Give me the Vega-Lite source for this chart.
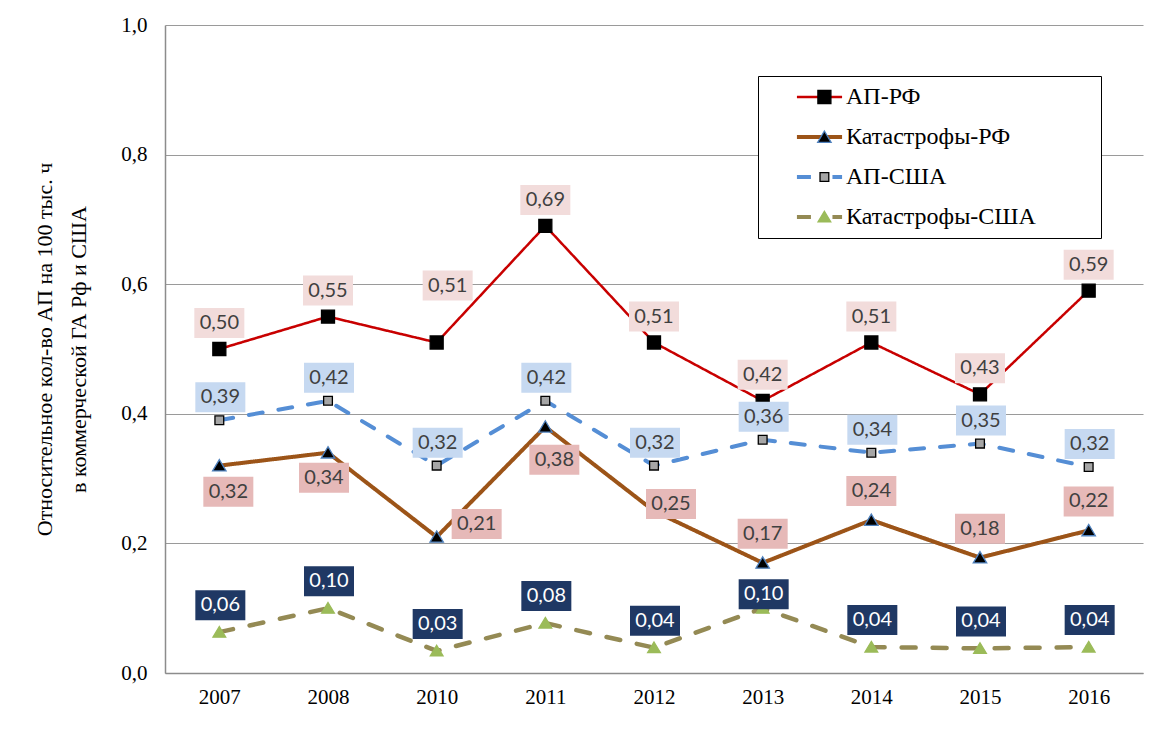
{
  "$schema": "https://vega.github.io/schema/vega-lite/v6.json",
  "width": 978,
  "height": 648,
  "autosize": {"type": "none"},
  "padding": {"left": 165, "top": 25, "right": 16, "bottom": 56},
  "background": "white",
  "config": {
    "view": {"stroke": null},
    "locale": {"number": {"decimal": ",", "thousands": " ", "grouping": [3], "currency": ["", ""]}}
  },
  "data": {
    "values": [
      {"year": "2007", "series": "АП-РФ", "value": 0.50},
      {"year": "2008", "series": "АП-РФ", "value": 0.55},
      {"year": "2010", "series": "АП-РФ", "value": 0.51},
      {"year": "2011", "series": "АП-РФ", "value": 0.69},
      {"year": "2012", "series": "АП-РФ", "value": 0.51},
      {"year": "2013", "series": "АП-РФ", "value": 0.42},
      {"year": "2014", "series": "АП-РФ", "value": 0.51},
      {"year": "2015", "series": "АП-РФ", "value": 0.43},
      {"year": "2016", "series": "АП-РФ", "value": 0.59},
      {"year": "2007", "series": "Катастрофы-РФ", "value": 0.32},
      {"year": "2008", "series": "Катастрофы-РФ", "value": 0.34},
      {"year": "2010", "series": "Катастрофы-РФ", "value": 0.21},
      {"year": "2011", "series": "Катастрофы-РФ", "value": 0.38},
      {"year": "2012", "series": "Катастрофы-РФ", "value": 0.25},
      {"year": "2013", "series": "Катастрофы-РФ", "value": 0.17},
      {"year": "2014", "series": "Катастрофы-РФ", "value": 0.236},
      {"year": "2015", "series": "Катастрофы-РФ", "value": 0.178},
      {"year": "2016", "series": "Катастрофы-РФ", "value": 0.22},
      {"year": "2007", "series": "АП-США", "value": 0.39},
      {"year": "2008", "series": "АП-США", "value": 0.42},
      {"year": "2010", "series": "АП-США", "value": 0.32},
      {"year": "2011", "series": "АП-США", "value": 0.42},
      {"year": "2012", "series": "АП-США", "value": 0.32},
      {"year": "2013", "series": "АП-США", "value": 0.36},
      {"year": "2014", "series": "АП-США", "value": 0.34},
      {"year": "2015", "series": "АП-США", "value": 0.354},
      {"year": "2016", "series": "АП-США", "value": 0.318},
      {"year": "2007", "series": "Катастрофы-США", "value": 0.063},
      {"year": "2008", "series": "Катастрофы-США", "value": 0.10},
      {"year": "2010", "series": "Катастрофы-США", "value": 0.034},
      {"year": "2011", "series": "Катастрофы-США", "value": 0.077},
      {"year": "2012", "series": "Катастрофы-США", "value": 0.039},
      {"year": "2013", "series": "Катастрофы-США", "value": 0.10},
      {"year": "2014", "series": "Катастрофы-США", "value": 0.04},
      {"year": "2015", "series": "Катастрофы-США", "value": 0.038},
      {"year": "2016", "series": "Катастрофы-США", "value": 0.04}
    ]
  },
  "encoding": {
    "x": {
      "field": "year", "type": "ordinal", "sort": null,
      "scale": {"type": "point", "padding": 0.5},
      "axis": {
        "title": null, "labelAngle": 0, "labelFont": "Liberation Serif", "labelFontSize": 21,
        "labelColor": "black", "ticks": false, "domainColor": "#8c8c8c", "domainWidth": 1.5,
        "labelPadding": 13, "grid": false
      }
    },
    "y": {
      "field": "value", "type": "quantitative",
      "scale": {"domain": [0, 1], "nice": false},
      "axis": {
        "values": [0, 0.2, 0.4, 0.6, 0.8, 1], "format": ".1f",
        "labelFont": "Liberation Serif", "labelFontSize": 21, "labelColor": "black",
        "ticks": false, "labelPadding": 18, "domainColor": "#8c8c8c", "domainWidth": 1.5,
        "gridColor": "#9a9a9a", "gridWidth": 1.2,
        "title": ["Относительное кол-во АП  на 100 тыс. ч", "в коммерческой ГА Рф и США"],
        "titleFont": "Liberation Serif", "titleFontSize": 22, "titleFontWeight": "normal",
        "titleColor": "black", "titleLineHeight": 34, "titlePadding": 30
      }
    }
  },
  "layer": [
    {
      "mark": {
        "type": "line", "strokeCap": "round",
        "strokeWidth": {"expr": "datum.series === 'АП-РФ' ? 2.5 : (datum.series === 'Катастрофы-США' ? 4.5 : 4)"}
      },
      "encoding": {
        "color": {
          "field": "series", "type": "nominal",
          "scale": {"domain": ["АП-РФ", "Катастрофы-РФ", "АП-США", "Катастрофы-США"], "range": ["#c80000", "#9c5418", "#558ed5", "#948a54"]},
          "legend": {
            "orient": "none", "legendX": 593, "legendY": 51,
            "title": "\u2800\u2800", "titleOrient": "right", "titleFontSize": 24, "titlePadding": 20,
            "titleFont": "Liberation Serif", "titleColor": "white",
            "padding": 9, "strokeColor": "black", "fillColor": "white",
            "symbolSize": 1369, "symbolOffset": 40.5, "symbolStrokeWidth": 2,
            "labelFont": "Liberation Serif", "labelFontSize": 24, "labelColor": "black", "labelOffset": 14.5,
            "labelLimit": 500, "rowPadding": 16, "zindex": 0,
            "encode": {
              "symbols": {
                "update": {
                  "shape": {"signal": "datum.value === 'АП-РФ' || datum.value === 'Катастрофы-РФ' ? 'M-1.22,0H1.22' : 'M-1.22,0H-0.3M0.7,0H1.22'"},
                  "strokeWidth": {"signal": "datum.value === 'АП-РФ' ? 2.5 : 4"},
                  "fillOpacity": {"value": 0},
                  "strokeDash": {"value": [1, 0]},
                  "opacity": {"value": 1}
                }
              }
            }
          }
        },
        "strokeDash": {
          "field": "series", "type": "nominal",
          "scale": {"domain": ["АП-РФ", "Катастрофы-РФ", "АП-США", "Катастрофы-США"], "range": [[1, 0], [1, 0], [14, 16], [14, 17]]},
          "legend": null
        }
      }
    },
    {
      "mark": {"type": "point", "filled": true, "size": 200, "strokeWidth": 1.3, "opacity": 1},
      "encoding": {
        "shape": {
          "field": "series", "type": "nominal", "sort": null,
          "scale": {"range": ["M-0.92,-0.92H0.92V0.92H-0.92Z", "M0,-0.85L0.95,0.75H-0.95Z", "M-0.62,-0.62H0.62V0.62H-0.62Z", "M0,-0.8L0.9,0.7H-0.9Z"]},
          "legend": {
            "orient": "none", "legendX": 593, "legendY": 51, "title": null,
            "padding": 9, "symbolSize": 200, "symbolOffset": 45.4, "symbolStrokeWidth": 1.3,
            "labelFont": "Liberation Serif", "labelFontSize": 24, "labelOpacity": 0, "labelOffset": 14.5,
            "labelLimit": 500, "rowPadding": 16, "zindex": 1,
            "encode": {
              "symbols": {
                "update": {
                  "fill": {"signal": "datum.value === 'АП-США' ? '#a6a6a6' : (datum.value === 'Катастрофы-США' ? '#9bbb59' : 'black')"},
                  "stroke": {"signal": "datum.value === 'Катастрофы-РФ' ? '#4f81bd' : (datum.value === 'Катастрофы-США' ? '#9bbb59' : 'black')"},
                  "strokeWidth": {"value": 1.3},
                  "fillOpacity": {"value": 1},
                  "opacity": {"value": 1}
                }
              }
            }
          }
        },
        "fill": {
          "field": "series", "type": "nominal", "sort": null,
          "scale": {"range": ["black", "black", "#a6a6a6", "#9bbb59"]},
          "legend": null
        },
        "stroke": {
          "field": "series", "type": "nominal", "sort": null,
          "scale": {"range": ["black", "#4f81bd", "black", "#9bbb59"]},
          "legend": null
        }
      }
    },
    {
      "transform": [{"filter": "datum.series === 'АП-РФ'"}],
      "mark": {
        "type": "point", "shape": "M-1,-0.6H1V0.6H-1Z", "size": 2500, "filled": true,
        "fill": "#f2dcdb", "opacity": 1, "strokeWidth": 0,
        "xOffset": {"expr": "datum.year === '2010' ? 11 : 0"},
        "yOffset": {"expr": "datum.year === '2010' ? -57 : -26"}
      }
    },
    {
      "transform": [{"filter": "datum.series === 'АП-РФ'"}],
      "mark": {
        "type": "text", "font": "Lato", "fontSize": 20, "fill": "#404040", "baseline": "middle", "align": "center",
        "xOffset": {"expr": "datum.year === '2010' ? 11 : 0"},
        "yOffset": {"expr": "datum.year === '2010' ? -57 : -26"}
      },
      "encoding": {"text": {"field": "value", "type": "quantitative", "format": ".2f"}}
    },
    {
      "transform": [{"filter": "datum.series === 'Катастрофы-РФ'"}],
      "mark": {
        "type": "point", "shape": "M-1,-0.6H1V0.6H-1Z", "size": 2500, "filled": true,
        "fill": "#e6b9b8", "opacity": 1, "strokeWidth": 0,
        "xOffset": {"expr": "datum.year === '2007' ? 9 : datum.year === '2008' ? -4 : datum.year === '2010' ? 40 : datum.year === '2011' ? 9 : datum.year === '2012' ? 17 : 0"},
        "yOffset": {"expr": "datum.year === '2007' ? 26 : datum.year === '2008' ? 25 : datum.year === '2010' ? -13 : datum.year === '2011' ? 33 : datum.year === '2012' ? -7 : -29"}
      }
    },
    {
      "transform": [{"filter": "datum.series === 'Катастрофы-РФ'"}],
      "mark": {
        "type": "text", "font": "Lato", "fontSize": 20, "fill": "#404040", "baseline": "middle", "align": "center",
        "xOffset": {"expr": "datum.year === '2007' ? 9 : datum.year === '2008' ? -4 : datum.year === '2010' ? 40 : datum.year === '2011' ? 9 : datum.year === '2012' ? 17 : 0"},
        "yOffset": {"expr": "datum.year === '2007' ? 26 : datum.year === '2008' ? 25 : datum.year === '2010' ? -13 : datum.year === '2011' ? 33 : datum.year === '2012' ? -7 : -29"}
      },
      "encoding": {"text": {"field": "value", "type": "quantitative", "format": ".2f"}}
    },
    {
      "transform": [{"filter": "datum.series === 'АП-США'"}],
      "mark": {
        "type": "point", "shape": "M-1,-0.6H1V0.6H-1Z", "size": 2500, "filled": true,
        "fill": "#c6d9f1", "opacity": 1, "strokeWidth": 0,
        "xOffset": 1, "yOffset": -23
      }
    },
    {
      "transform": [{"filter": "datum.series === 'АП-США'"}],
      "mark": {
        "type": "text", "font": "Lato", "fontSize": 20, "fill": "#404040", "baseline": "middle", "align": "center",
        "xOffset": 1, "yOffset": -23
      },
      "encoding": {"text": {"field": "value", "type": "quantitative", "format": ".2f"}}
    },
    {
      "transform": [{"filter": "datum.series === 'Катастрофы-США'"}],
      "mark": {
        "type": "point", "shape": "M-1,-0.6H1V0.6H-1Z", "size": 2500, "filled": true,
        "fill": "#1f3864", "opacity": 1, "strokeWidth": 0,
        "xOffset": 1,
        "yOffset": {"expr": "datum.year === '2013' ? -14 : -27"}
      }
    },
    {
      "transform": [{"filter": "datum.series === 'Катастрофы-США'"}],
      "mark": {
        "type": "text", "font": "Lato", "fontSize": 20, "fill": "white", "baseline": "middle", "align": "center",
        "xOffset": 1,
        "yOffset": {"expr": "datum.year === '2013' ? -14 : -27"}
      },
      "encoding": {"text": {"field": "value", "type": "quantitative", "format": ".2f"}}
    }
  ]
}
